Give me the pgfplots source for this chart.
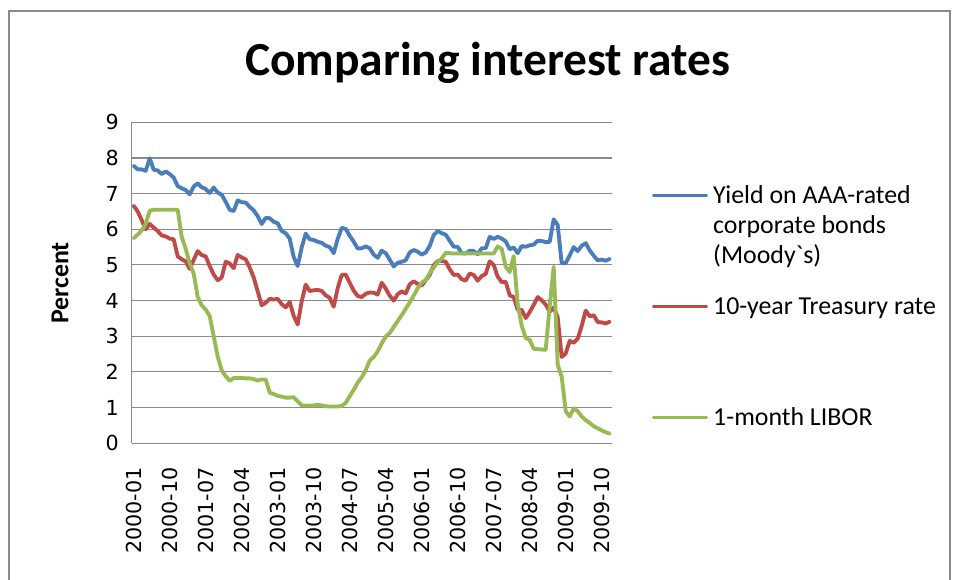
\documentclass[border=0pt]{standalone}
\usepackage{fontspec}
\setmainfont{Carlito}
\newfontfamily\legfont{Carlito}[Ligatures=TeXOff]
\newfontfamily\tickfont{DejaVu Sans}
\usepackage{pgfplots}
\usepackage{pgfplotstable}
\pgfplotsset{compat=1.18}
\definecolor{sblue}{HTML}{4A7EBB}
\definecolor{sred}{HTML}{BE4B48}
\definecolor{sgreen}{HTML}{98B954}
\definecolor{axgray}{HTML}{8A8A8A}

\pgfplotstableread{
idx aaa tsy libor
0 7.78 6.66 5.75
1 7.68 6.50 5.85
2 7.68 6.26 5.97
3 7.64 6.00 6.15
4 7.99 6.15 6.52
5 7.67 6.05 6.55
6 7.65 5.95 6.55
7 7.55 5.83 6.55
8 7.62 5.80 6.55
9 7.55 5.74 6.55
10 7.45 5.72 6.55
11 7.21 5.24 6.55
12 7.15 5.16 5.79
13 7.10 5.10 5.45
14 6.98 4.89 5.05
15 7.20 5.14 4.76
16 7.29 5.39 4.10
17 7.18 5.28 3.87
18 7.13 5.24 3.75
19 7.02 4.97 3.57
20 7.17 4.73 3.00
21 7.03 4.57 2.43
22 6.97 4.65 2.05
23 6.77 5.09 1.88
24 6.55 5.04 1.75
25 6.51 4.91 1.83
26 6.81 5.28 1.83
27 6.76 5.21 1.83
28 6.75 5.16 1.82
29 6.63 4.93 1.82
30 6.53 4.65 1.80
31 6.37 4.26 1.76
32 6.15 3.87 1.79
33 6.32 3.94 1.79
34 6.31 4.05 1.42
35 6.21 4.03 1.38
36 6.17 4.05 1.33
37 5.95 3.90 1.31
38 5.89 3.81 1.28
39 5.74 3.96 1.28
40 5.22 3.57 1.29
41 4.97 3.33 1.18
42 5.49 3.98 1.06
43 5.88 4.45 1.06
44 5.72 4.27 1.06
45 5.70 4.29 1.06
46 5.65 4.30 1.08
47 5.62 4.27 1.06
48 5.54 4.15 1.04
49 5.50 4.08 1.03
50 5.33 3.83 1.03
51 5.73 4.35 1.03
52 6.04 4.72 1.05
53 6.01 4.73 1.13
54 5.82 4.50 1.32
55 5.65 4.28 1.50
56 5.46 4.13 1.70
57 5.47 4.10 1.85
58 5.52 4.19 2.05
59 5.47 4.23 2.32
60 5.29 4.22 2.42
61 5.20 4.17 2.58
62 5.40 4.50 2.80
63 5.33 4.34 2.99
64 5.15 4.14 3.09
65 4.96 4.00 3.26
66 5.06 4.18 3.43
67 5.09 4.26 3.59
68 5.13 4.20 3.77
69 5.35 4.46 3.95
70 5.42 4.54 4.14
71 5.37 4.47 4.35
72 5.29 4.42 4.50
73 5.35 4.57 4.58
74 5.53 4.72 4.77
75 5.84 4.99 4.93
76 5.95 5.11 5.08
77 5.89 5.11 5.18
78 5.85 5.09 5.34
79 5.68 4.88 5.33
80 5.51 4.72 5.32
81 5.51 4.73 5.32
82 5.33 4.60 5.32
83 5.32 4.56 5.33
84 5.40 4.76 5.32
85 5.39 4.72 5.32
86 5.30 4.56 5.32
87 5.47 4.69 5.32
88 5.47 4.75 5.32
89 5.79 5.10 5.32
90 5.73 5.00 5.32
91 5.79 4.67 5.52
92 5.74 4.52 5.45
93 5.66 4.53 4.95
94 5.44 4.15 4.80
95 5.49 4.10 5.25
96 5.33 3.74 3.90
97 5.53 3.74 3.30
98 5.51 3.51 2.95
99 5.55 3.68 2.90
100 5.57 3.88 2.65
101 5.68 4.10 2.64
102 5.67 4.01 2.63
103 5.64 3.89 2.62
104 5.65 3.69 3.85
105 6.28 3.81 4.95
106 6.12 3.53 2.20
107 5.05 2.42 1.87
108 5.05 2.52 0.90
109 5.27 2.87 0.75
110 5.50 2.82 0.98
111 5.39 2.93 0.90
112 5.54 3.29 0.75
113 5.61 3.72 0.65
114 5.41 3.56 0.57
115 5.26 3.59 0.48
116 5.13 3.40 0.42
117 5.15 3.39 0.36
118 5.12 3.36 0.31
119 5.17 3.41 0.27
}\rates

\begin{document}
\begin{tikzpicture}
\path[use as bounding box] (0pt,0pt) rectangle (717.75pt,435pt);
\draw[axgray, line width=1.5pt] (6.75pt,-10pt) -- (6.75pt,426.75pt) -- (712.5pt,426.75pt) -- (712.5pt,-10pt);
\begin{axis}[
  at={(98.775pt,102.525pt)}, anchor=south west,
  scale only axis, width=360pt, height=240.75pt,
  xmin=-0.5, xmax=119.5, ymin=0, ymax=9,
  ytick={0,1,...,9},
  xtick={0,9,...,117},
  xticklabels={2000-01,2000-10,2001-07,2002-04,2003-01,2003-10,2004-07,2005-04,2006-01,2006-10,2007-07,2008-04,2009-01,2009-10},
  axis lines*=left,
  axis line style={draw=axgray, line width=0.9pt},
  major tick length=0pt,
  ymajorgrids,
  grid style={draw=axgray, line width=0.8pt},
  /pgf/number format/assume math mode=true,
  tick label style={font=\tickfont\fontsize{15.5}{18}\selectfont, inner sep=0pt},
  xticklabel style={rotate=90, anchor=east},
  xticklabel shift=18pt,
  yticklabel style={anchor=east},
  yticklabel shift=9.5pt,
  ylabel={Percent},
  every axis y label/.style={at={(axis description cs:-0.1494,0.4994)}, rotate=90, anchor=center, font=\bfseries\fontsize{19.4}{22.5}\selectfont},
  title={Comparing interest rates},
  title style={at={(axis description cs:0.742,1.1224)}, anchor=base, font=\bfseries\fontsize{35.6}{40}\selectfont},
  legend image code/.code={\draw[#1, line width=2.6pt] (0pt,5.8pt) -- (39.75pt,5.8pt);},
  legend style={at={(axis description cs:1.0829,0.8069)}, anchor=north west, draw=none, fill=none, inner sep=0pt,
    cells={anchor=base west}, column sep=3.75pt, row sep=19.25pt,
    nodes={inner sep=0pt, text height=14pt, text depth=50pt},
    font=\legfont\fontsize{19.4}{22.5}\selectfont},
  every axis plot/.append style={line width=2.9pt, line join=round, line cap=round},
]
\addplot[sblue] table[x=idx, y=aaa] {\rates};
\addlegendentry{{\begin{tabular}[t]{@{}l@{}}Yield on AAA-rated\\corporate bonds\\(Moody`s)\end{tabular}}}
\addplot[sred] table[x=idx, y=tsy] {\rates};
\addlegendentry{10-year Treasury rate}
\addplot[sgreen] table[x=idx, y=libor] {\rates};
\addlegendentry{1-month LIBOR}
\end{axis}
\end{tikzpicture}
\end{document}
